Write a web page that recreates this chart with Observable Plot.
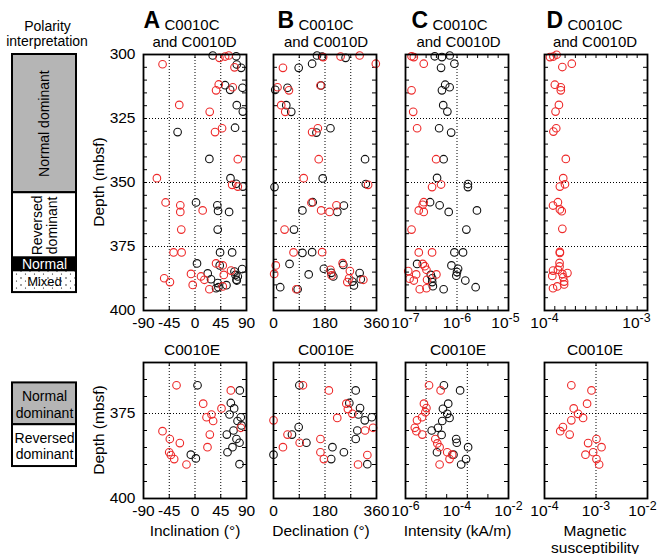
<!DOCTYPE html>
<html><head><meta charset="utf-8">
<script src="https://cdn.jsdelivr.net/npm/d3@7"></script>
<script src="https://cdn.jsdelivr.net/npm/@observablehq/plot@0.6"></script>
<style>
html,body{margin:0;padding:0;background:#fff;}
#root{position:relative;width:657px;height:554px;overflow:hidden;background:#fff;}
</style></head><body><div id="root"></div>
<script>
// ---------------- DATA ----------------
// [value, depth (mbsf)]
const inclTopBlack = [[31,300.4],[72,300.7],[73,303.9],[80.6,305.2],[52.6,312],[61.4,313.8],[83,313],[73,319.8],[83.6,322.3],[70,328.6],[-30.4,330.3],[25.1,340.8],[62,348.3],[72,350.5],[83.6,351.6],[1.8,357.8],[39,358.9],[40.3,361.1],[59.6,361.5],[39.7,368.4],[43.8,377.3],[64.9,377.3],[3.5,381.6],[43.2,382.4],[82.4,383.8],[22.2,385.5],[69,384.8],[70.7,386.1],[72.5,388],[74.8,386.7],[28,387.8],[39.7,389.3],[40.9,390.9],[36.8,391.3],[55,390.1],[73,388.3]];
const inclTopRed = [[-56.7,303.8],[42.7,301.3],[52.6,300.8],[59,300.4],[69,305],[41.5,311.7],[36.8,314],[66,312.8],[-27.5,319.7],[25.7,322.4],[47.3,328.8],[35,330.3],[74.8,340.9],[-66.6,348.3],[64.9,350.9],[74.8,351.6],[-51.4,357.8],[-25.7,358.9],[-25.7,361.5],[13.4,360.9],[-24,368.4],[-37.4,377.3],[-23.4,377.3],[36.8,381.6],[48.5,382.4],[63,384.4],[50.3,386.1],[-7,385.7],[10.5,386.7],[16.4,388],[-4,390],[-53.8,387.4],[-43.8,388.9],[25.1,391.7],[48.5,390.6]];
const declTopBlack = [[152,300.4],[170,300.8],[252,301.3],[135,303.6],[88,305.2],[6,313.8],[49,313],[166.5,312.1],[44.6,319.8],[62,322.4],[199,328.8],[150,330.5],[320,340.9],[172,348.4],[3.5,351.8],[322.5,350.6],[137,357.7],[246,359],[223,361.5],[101,360.9],[71.5,368.4],[101,377.5],[135,377.2],[56,381.8],[176,383.7],[123,385.9],[202,385.3],[209,386.7],[244,382.2],[301,385.4],[305,387.8],[275.6,388.7],[281,390.2],[23.5,390.9],[84.4,391.7]];
const declTopRed = [[173.5,301],[234.5,300.8],[301,300.4],[357.6,303.6],[33,305.2],[14,312.8],[54,314],[164,312.1],[27,319.8],[41,322.4],[155,328.8],[135,330.3],[158,340.9],[105.5,348.3],[330.7,350.9],[132.5,357.9],[220,358.9],[166.5,360.9],[196,361.5],[38.7,368.4],[70,377.3],[170,377.2],[8,382.4],[2.3,385.7],[199,384.1],[203,386.3],[241.5,381.5],[267,384.6],[264,387.4],[258,388.9],[314,388],[79.7,391.7]];
const intTopBlack = [[3.7e-7,300.7],[5.1e-7,301],[7.2e-7,300.4],[8.9e-7,303.6],[4.9e-7,305.2],[5.9e-7,311.8],[7.2e-7,312.8],[5.1e-7,314],[5.4e-7,319.8],[6.5e-7,322.3],[4.5e-7,328.8],[7.7e-7,330.5],[5.5e-7,340.9],[4.1e-7,348.2],[1.63e-6,350.6],[1.63e-6,351.8],[3.0e-7,357.7],[4.6e-7,358.9],[6.9e-7,361.5],[2.44e-6,360.9],[1.52e-6,368.4],[8.9e-7,377.3],[1.31e-6,377.3],[1.68e-7,381.8],[7.8e-7,382.4],[1.05e-6,383.7],[1.0e-6,385],[9.7e-7,386.4],[3.1e-7,386.1],[3.3e-7,387.4],[3.3e-7,388.9],[3.4e-7,390.5],[1.45e-6,388.3],[2.3e-6,390.9],[5.5e-7,391.7]];
const intTopRed = [[1.31e-7,300.7],[1.45e-7,301],[2.26e-7,303.6],[1.31e-7,314],[1.41e-7,322.4],[1.68e-7,328.8],[3.93e-7,340.9],[3.28e-7,351.8],[4.9e-7,350.8],[2.26e-7,357.7],[2.16e-7,358.7],[1.81e-7,360.9],[2.26e-7,361.5],[1.31e-7,368.4],[1.81e-7,377.3],[3.28e-7,377.3],[2.16e-7,381.8],[2.37e-7,382.7],[1.13e-7,384.6],[1.61e-7,385.9],[2.55e-7,384.1],[3.98e-7,385.9],[1.45e-7,388.3],[2.62e-7,388],[1.89e-7,391.7],[2.55e-7,391.3],[1.2e-7,387.6]];
const suscTopRed = [[1.13e-4,301],[1.22e-4,300.8],[1.31e-4,300.1],[1.84e-4,303.6],[1.49e-4,304.9],[1.26e-4,311.8],[1.44e-4,312.8],[1.44e-4,314],[1.38e-4,319.7],[1.28e-4,322.3],[1.30e-4,328.8],[1.22e-4,330.1],[1.61e-4,340.8],[1.52e-4,348.3],[1.58e-4,350.7],[1.41e-4,351.6],[1.21e-4,359],[1.35e-4,357.7],[1.41e-4,360.5],[1.47e-4,361.2],[1.49e-4,368.1],[1.41e-4,377.1],[1.41e-4,377.5],[1.40e-4,381.4],[1.40e-4,382.8],[1.21e-4,384.4],[1.35e-4,384.1],[1.49e-4,385.7],[1.19e-4,386.5],[1.67e-4,385.4],[1.52e-4,387],[1.55e-4,388.7],[1.55e-4,389.8],[1.33e-4,390.6],[1.21e-4,391.3]];

const inclBotBlack = [[4.4,366.7],[78.3,368.2],[62.6,371.9],[68.4,373.5],[60.3,375.3],[80,376.1],[74.3,377.2],[81.3,378.5],[67.3,380],[55.6,381.2],[72.5,382.5],[77.8,383.6],[65.5,384.9],[56.8,386.4],[-7.3,387.1],[1.5,388.2],[77.8,389.9]];
const inclBotRed = [[-32.3,366.7],[62.6,368.2],[14.3,372.1],[46.3,373.5],[20.1,376.1],[28.8,375.3],[31.7,377.2],[80,379.2],[-56.8,380.2],[-44,382.5],[-26.5,383.7],[25.9,381.2],[21.8,384.9],[-45.1,386.4],[-42.2,387.2],[-36.4,388.4],[-14.9,390]];
const declBotBlack = [[90.3,366.7],[287.3,368.2],[265,371.9],[302.5,373.4],[296.7,375.3],[319,377],[343.6,376.1],[293,380],[287.3,382.5],[88,379],[64.5,381.2],[115,383.6],[206,384.9],[246,386.4],[201.7,388.4],[0,387.1],[328,389.9]];
const declBotRed = [[103,366.7],[193.5,368.2],[254.5,372.1],[260,373.7],[275.6,375.1],[222.8,376.3],[0,377],[348,379.2],[320,380],[49,381.2],[164,382.5],[91.5,383.6],[33,384.9],[164,386.4],[176,388.4],[328,387.2],[295.5,390]];
const intBotBlack = [[3.1e-5,366.7],[1.32e-4,368.2],[4.56e-5,372.1],[2.84e-5,373.6],[4.17e-5,375.1],[5.13e-5,376.3],[2.67e-5,377.2],[1.82e-5,379.2],[1.04e-5,380],[2.52e-5,381.3],[9.3e-5,382.5],[9.8e-5,383.6],[1.67e-5,386.4],[7.3e-5,387.1],[2.7e-4,384.9],[2.25e-4,388.4],[1.45e-4,390]];
const intBotRed = [[8.2e-6,366.7],[2.31e-5,368.2],[5.2e-6,372.1],[6.5e-6,373.4],[5.9e-6,374.6],[4.4e-6,376.1],[2.8e-6,377],[2.3e-6,379.2],[2.65e-6,380.2],[4.5e-6,381.2],[1.44e-5,382.5],[1.72e-5,383.8],[2.11e-5,384.9],[4.17e-5,386.4],[6.5e-5,387.1],[5.13e-5,388.4],[2.11e-5,390]];
const suscBotRed = [[3.32e-4,366.7],[8.17e-4,368.2],[6.71e-4,372.1],[3.69e-4,373.5],[4.48e-4,375.1],[5.61e-4,376.3],[3.32e-4,377],[2.28e-4,379],[2.02e-4,380.2],[3.08e-4,381.2],[1.02e-3,382.5],[7.03e-4,383.7],[1.28e-3,384.9],[8.81e-4,386.4],[6.24e-4,387.1],[1.02e-3,388.4],[1.15e-3,390]];

// polarity intervals (depth boundaries) and names
const polTopBounds = [300, 354, 379.5, 384.5, 393];
const polTopNames = ["Normal dominant", "Reversed dominant", "Normal", "Mixed"];
const polBotBounds = [366, 378.3, 390.6];
const polBotNames = ["Normal dominant", "Reversed dominant"];

// tick labels
const depthTopLabels = [300, 325, 350, 375, 400];
const depthBotLabels = [375, 400];
const inclLabels = [-90, -45, 0, 45, 90];
const declLabels = [0, 180, 360];
const intTopLabels = [1e-7, 1e-6, 1e-5];
const suscTopLabels = [1e-4, 1e-3];
const intBotLabels = [1e-6, 1e-4, 1e-2];
const suscBotLabels = [1e-4, 1e-3, 1e-2];

const titlesTop = ["A", "B", "C", "D"];
const siteTop = ["C0010C", "and C0010D"];
const siteBot = "C0010E";
const xTitles = ["Inclination (°)", "Declination (°)", "Intensity (kA/m)", "Magnetic\nsusceptibility"];

// ---------------- DRAWING ----------------
const RED = "#ee2a2a", BLACK = "#111";
const FONT = '"Liberation Sans", Arial, Helvetica, sans-serif';
const FS = 15.5;
const root = document.getElementById("root");
const M = 2;

function place(svg, left, top) {
  svg.style.position = "absolute";
  svg.style.left = left + "px";
  svg.style.top = top + "px";
  root.appendChild(svg);
}
function supers(svg, lastShift) {
  const labels = [];
  svg.querySelectorAll("text").forEach(t => {
    const m = /^10\^(.+)$/.exec(t.textContent);
    if (m) {
      t.textContent = "10";
      const ts = document.createElementNS("http://www.w3.org/2000/svg", "tspan");
      ts.setAttribute("dy", "-0.45em");
      ts.setAttribute("font-size", "0.8em");
      ts.textContent = m[1];
      t.appendChild(ts);
      labels.push(t);
    }
  });
  if (lastShift && labels.length) labels[labels.length - 1].setAttribute("dx", lastShift);
}
const pow = d => "10^" + Math.round(Math.log10(d));
const plain = d => String(d);
const range = (a, b, s) => d3.range(a, b + 1e-9, s);

function panel(o) {
  const W = o.w, H = o.h;
  const marks = [];
  if (o.gridY) marks.push(Plot.ruleY(o.gridY, {y: d => d, strokeDasharray: "1,2", strokeWidth: 1}));
  if (o.gridX) marks.push(Plot.ruleX(o.gridX, {x: d => d, strokeDasharray: "1,2", strokeWidth: 1}));
  marks.push(Plot.tickY(o.yTicks, {y: d => d, insetRight: W - 4}));
  marks.push(Plot.tickY(o.yTicks, {y: d => d, insetLeft: W - 4}));
  if (o.xTicks) {
    marks.push(Plot.tickX(o.xTicks, {x: d => d, insetTop: H - 4}));
    marks.push(Plot.tickX(o.xTicks, {x: d => d, insetBottom: H - 4}));
  }
  for (const s of o.series) marks.push(Plot.dot(s.data, {x: d => d[0], y: d => d[1], r: 3.8, stroke: s.color, strokeWidth: 1.1, fill: "none"}));
  marks.push(Plot.frame({stroke: "black", strokeWidth: 1.8}));
  marks.push(Plot.axisX(o.xLabels, {anchor: "bottom", tickSize: 0, tickPadding: 6, tickFormat: o.fmt, label: null, fontSize: FS}));
  if (o.yLabels) marks.push(Plot.axisY(o.yLabels, {anchor: "left", tickSize: 0, tickPadding: 8, tickFormat: plain, label: null, fontSize: FS}));
  const y = {domain: o.yDomain, reverse: true};
  if (!o.yLabels) y.axis = null;
  const svg = Plot.plot({
    width: W + 2 * M, height: H + 2 * M,
    marginLeft: M, marginRight: M, marginTop: M, marginBottom: M,
    x: {type: o.xType || "linear", domain: o.xDomain},
    y,
    style: {background: "transparent", overflow: "visible", fontFamily: FONT, fontSize: FS + "px", color: "black"},
    marks
  });
  supers(svg, o.lastShift);
  place(svg, o.left - M, o.top - M);
}

const polFill = {"Normal dominant": "#b5b5b5", "Reversed dominant": "white", "Normal": "black", "Mixed": "url(#speck)"};
function polarity(o) {
  const W = 64, H = o.h;
  const marks = [];
  o.names.forEach((n, i) => {
    const row = [{y1: o.bounds[i], y2: o.bounds[i + 1]}];
    marks.push(Plot.rect(row, {x1: 0, x2: 1, y1: "y1", y2: "y2", fill: polFill[n], stroke: "black", strokeWidth: 2}));
    marks.push(Plot.text(row, {x: 0.5, y: d => (d.y1 + d.y2) / 2, text: () => o.labels[i], rotate: o.rotate[i],
      fill: n === "Normal" ? "white" : "black", fontSize: o.fs[i], lineHeight: o.lh, fontFamily: FONT}));
  });
  const svg = Plot.plot({
    width: W + 2 * M, height: H + 2 * M,
    marginLeft: M, marginRight: M, marginTop: M, marginBottom: M,
    x: {domain: [0, 1], axis: null},
    y: {domain: o.yDomain, reverse: true, axis: null},
    style: {background: "transparent", overflow: "visible", fontFamily: FONT},
    marks
  });
  const defs = d3.select(svg).insert("defs", ":first-child");
  const p = defs.append("pattern").attr("id", "speck").attr("width", 9).attr("height", 7).attr("patternUnits", "userSpaceOnUse");
  p.append("rect").attr("width", 9).attr("height", 7).attr("fill", "white");
  p.append("circle").attr("cx", 2).attr("cy", 2).attr("r", 0.7).attr("fill", "black");
  p.append("circle").attr("cx", 6.5).attr("cy", 5).attr("r", 0.6).attr("fill", "black");
  place(svg, o.left - M, o.top - M);
}

// geometry
const lefts = [143, 273, 405, 544];
const PW = 103;
const topY = 54, topH = 256, botY = 362, botH = 136;
const topYT = range(305, 395, 5), botYT = range(365, 395, 5);

// top row
panel({left: lefts[0], top: topY, w: PW, h: topH, xDomain: [-90, 90], yDomain: [300, 400],
  gridX: [-45, 0, 45], gridY: [325, 350, 375], yTicks: topYT, xTicks: [-45, 0, 45],
  xLabels: inclLabels, fmt: plain, yLabels: depthTopLabels,
  series: [{data: inclTopBlack, color: BLACK}, {data: inclTopRed, color: RED}]});
panel({left: lefts[1], top: topY, w: PW, h: topH, xDomain: [0, 360], yDomain: [300, 400],
  gridX: [90, 180, 270], gridY: [325, 350, 375], yTicks: topYT, xTicks: [90, 180, 270],
  xLabels: declLabels, fmt: plain,
  series: [{data: declTopBlack, color: BLACK}, {data: declTopRed, color: RED}]});
panel({left: lefts[2], top: topY, w: PW, h: topH, xType: "log", xDomain: [1e-7, 1e-5], yDomain: [300, 400],
  gridX: [1e-6], gridY: [325, 350, 375], yTicks: topYT, xTicks: range(-6.8, -5.2, 0.2).map(e => 10 ** e),
  xLabels: intTopLabels, fmt: pow, lastShift: -3,
  series: [{data: intTopBlack, color: BLACK}, {data: intTopRed, color: RED}]});
panel({left: lefts[3], top: topY, w: PW, h: topH, xType: "log", xDomain: [1e-4, 1e-3], yDomain: [300, 400],
  gridY: [325, 350, 375], yTicks: topYT, xTicks: range(-3.9, -3.1, 0.1).map(e => 10 ** e),
  xLabels: suscTopLabels, fmt: pow, lastShift: -11,
  series: [{data: suscTopRed, color: RED}]});

// bottom row
panel({left: lefts[0], top: botY, w: PW, h: botH, xDomain: [-90, 90], yDomain: [360, 400],
  gridX: [-45, 0, 45], gridY: [375], yTicks: botYT, xTicks: [-45, 0, 45],
  xLabels: inclLabels, fmt: plain, yLabels: depthBotLabels,
  series: [{data: inclBotBlack, color: BLACK}, {data: inclBotRed, color: RED}]});
panel({left: lefts[1], top: botY, w: PW, h: botH, xDomain: [0, 360], yDomain: [360, 400],
  gridX: [90, 180, 270], gridY: [375], yTicks: botYT, xTicks: [90, 180, 270],
  xLabels: declLabels, fmt: plain,
  series: [{data: declBotBlack, color: BLACK}, {data: declBotRed, color: RED}]});
panel({left: lefts[2], top: botY, w: PW, h: botH, xType: "log", xDomain: [1e-6, 1e-2], yDomain: [360, 400],
  gridX: [10 ** -5.2, 10 ** -3.6], gridY: [375], yTicks: botYT, xTicks: [-5.2, -4.4, -3.6, -2.8].map(e => 10 ** e),
  xLabels: intBotLabels, fmt: pow,
  series: [{data: intBotBlack, color: BLACK}, {data: intBotRed, color: RED}]});
panel({left: lefts[3], top: botY, w: PW, h: botH, xType: "log", xDomain: [1e-4, 1e-2], yDomain: [360, 400],
  gridX: [1e-3], gridY: [375], yTicks: botYT, xTicks: [1e-3],
  xLabels: suscBotLabels, fmt: pow, lastShift: -5,
  series: [{data: suscBotRed, color: RED}]});

// polarity columns
polarity({left: 12, top: topY, h: topH, yDomain: [300, 400], bounds: polTopBounds, names: polTopNames,
  labels: ["Normal dominant", "Reversed\ndominant", "Normal", "Mixed"], rotate: [-90, -90, 0, 0], fs: [14, 14, 14, 13], lh: 1.1});
polarity({left: 12, top: botY, h: botH, yDomain: [360, 400], bounds: polBotBounds, names: polBotNames,
  labels: ["Normal\ndominant", "Reversed\ndominant"], rotate: [0, 0], fs: [14, 14], lh: 1.2});

// text overlay
const ov = d3.select(root).append("svg").attr("width", 657).attr("height", 554)
  .style("position", "absolute").style("left", "0px").style("top", "0px")
  .attr("font-family", FONT).attr("font-size", FS).attr("fill", "black");
function twoLine(x0, y0, x1, dy, lines, size) {
  const t = ov.append("text").attr("text-anchor", "middle");
  if (size) t.attr("font-size", size);
  t.append("tspan").attr("x", x0).attr("y", y0).text(lines[0]);
  t.append("tspan").attr("x", x1).attr("dy", dy).text(lines[1]);
  return t;
}
const c0Centers = [192, 326, 460, 595];
const c1Centers = [194.5, 326, 458.5, 595];
titlesTop.forEach((L, i) => {
  ov.append("text").attr("x", c0Centers[i] - 32).attr("y", 27.5).attr("text-anchor", "end")
    .attr("font-size", 23).attr("font-weight", "bold").text(L);
  twoLine(c0Centers[i], 29.5, c1Centers[i], 17, siteTop, 15);
});
const botCenters = [192, 326, 458, 595];
botCenters.forEach(cx => ov.append("text").attr("x", cx).attr("y", 355).attr("text-anchor", "middle").text(siteBot));
const xtCenters = [195, 321, 457.5, 595];
xTitles.forEach((t, i) => {
  const lines = t.split("\n");
  if (lines.length > 1) twoLine(xtCenters[i], 536, xtCenters[i], 16.5, lines);
  else ov.append("text").attr("x", xtCenters[i]).attr("y", 536).attr("text-anchor", "middle").text(t);
});
[182, 430].forEach(cy => ov.append("text").attr("transform", `translate(103.5,${cy}) rotate(-90)`).attr("text-anchor", "middle").text("Depth (mbsf)"));
twoLine(47.5, 31, 47, 14.5, ["Polarity", "interpretation"], 14);
</script></body></html>
